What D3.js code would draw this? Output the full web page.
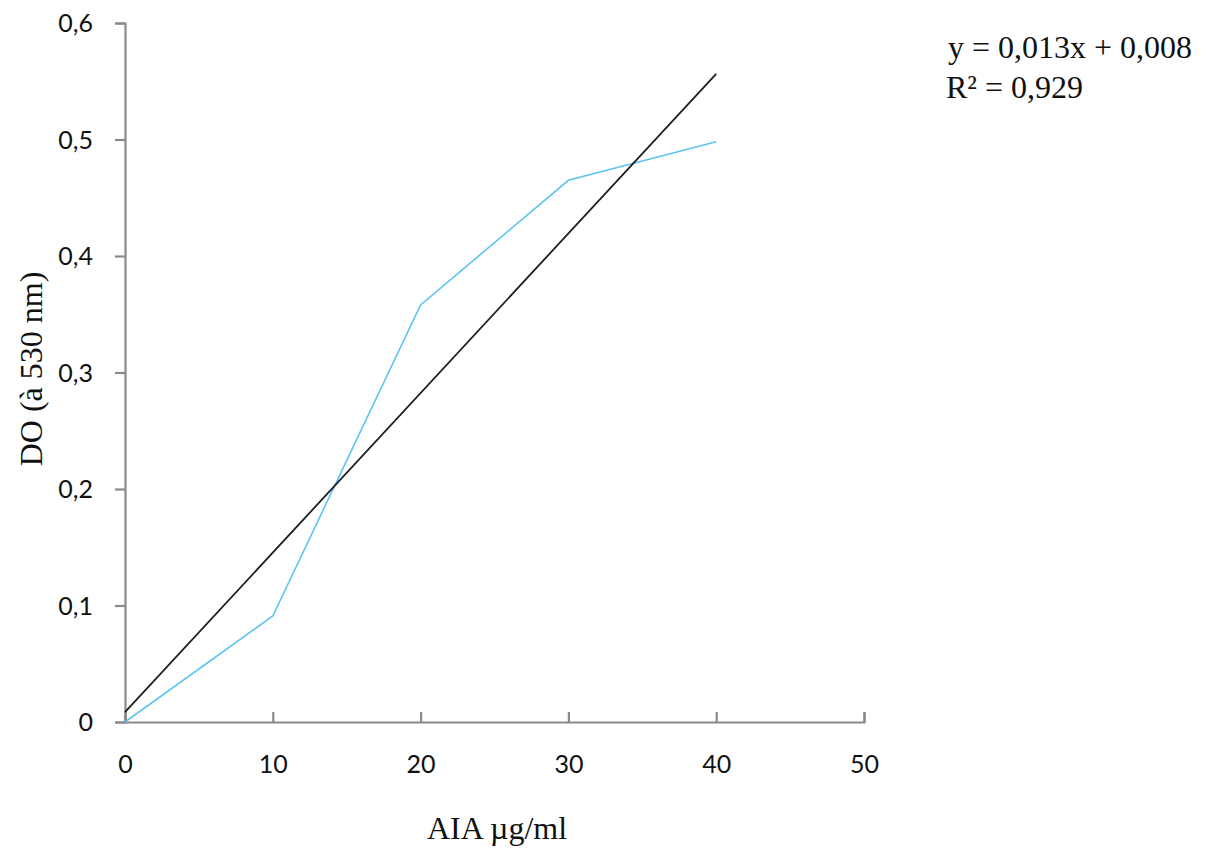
<!DOCTYPE html>
<html>
<head>
<meta charset="utf-8">
<script src="https://cdn.jsdelivr.net/npm/d3@7"></script>
<style>
  body { margin: 0; background: #fff; }
  .tick text { font-family: Lato, "Open Sans", sans-serif; font-size: 25px; fill: #111; }
  .title { font-family: "Liberation Serif", "Times New Roman", serif; font-size: 32px; fill: #111; }
</style>
</head>
<body>
<svg id="chart" width="1214" height="851"></svg>
<script>
// AIA concentration (µg/ml) and measured DO at 530 nm
const conc = [0, 10, 20, 30, 40];
const absorbance = [0, 0.091, 0.358, 0.465, 0.498];
const xTicks = [0, 10, 20, 30, 40, 50];
const yTicks = [0, 0.1, 0.2, 0.3, 0.4, 0.5, 0.6];

const svg = d3.select('#chart');
const margin = { left: 125, top: 23, right: 350, bottom: 129 };
const width = 1214, height = 851;

const x = d3.scaleLinear().domain([0, 50]).range([margin.left, width - margin.right]);
const y = d3.scaleLinear().domain([0, 0.6]).range([height - margin.bottom, margin.top]);

const fmt = d => d3.format('.1~f')(d).replace('.', ',');

// y axis, ticks pointing out
const yAxis = svg.append('g')
  .attr('transform', `translate(${margin.left},0)`)
  .call(d3.axisLeft(y).tickValues(yTicks).tickSize(10).tickPadding(22).tickFormat(fmt));

// x axis, ticks pointing up
const xAxis = svg.append('g')
  .attr('transform', `translate(0,${y(0)})`)
  .call(d3.axisBottom(x).tickValues(xTicks).tickSize(-10).tickPadding(33).tickFormat(d3.format('d')));

[yAxis, xAxis].forEach(g => {
  g.select('.domain').attr('stroke', '#8a8a8a').attr('stroke-width', 2.2);
  g.selectAll('.tick line').attr('stroke', '#8a8a8a').attr('stroke-width', 2.2);
});
xAxis.selectAll('.tick text').attr('dy', '0.71em');
yAxis.selectAll('.tick text').attr('dy', '0.35em');

// linear regression (trend line)
const mx = d3.mean(conc), my = d3.mean(absorbance);
const slope = d3.sum(conc, (c, i) => (c - mx) * (absorbance[i] - my)) / d3.sum(conc, c => (c - mx) ** 2);
const intercept = my - slope * mx;

const line = d3.line().x(d => x(d[0])).y(d => y(d[1]));

svg.append('path')
  .datum(conc.map((c, i) => [c, absorbance[i]]))
  .attr('fill', 'none')
  .attr('stroke', '#5cc3f2')
  .attr('stroke-width', 1.6)
  .attr('d', line);

svg.append('path')
  .datum(d3.extent(conc).map(c => [c, intercept + slope * c]))
  .attr('fill', 'none')
  .attr('stroke', '#1e1e1e')
  .attr('stroke-width', 1.8)
  .attr('d', line);

// axis titles
svg.append('text').attr('class', 'title')
  .attr('x', 497).attr('y', 839)
  .attr('text-anchor', 'middle')
  .text('AIA µg/ml');

svg.append('text').attr('class', 'title')
  .attr('transform', 'translate(42,369) rotate(-90)')
  .attr('text-anchor', 'middle')
  .text('DO (à 530 nm)');

// equation
svg.append('text').attr('class', 'title')
  .attr('x', 948).attr('y', 58)
  .text('y = 0,013x + 0,008');
svg.append('text').attr('class', 'title')
  .attr('x', 946).attr('y', 98)
  .text('R² = 0,929');
</script>
</body>
</html>
